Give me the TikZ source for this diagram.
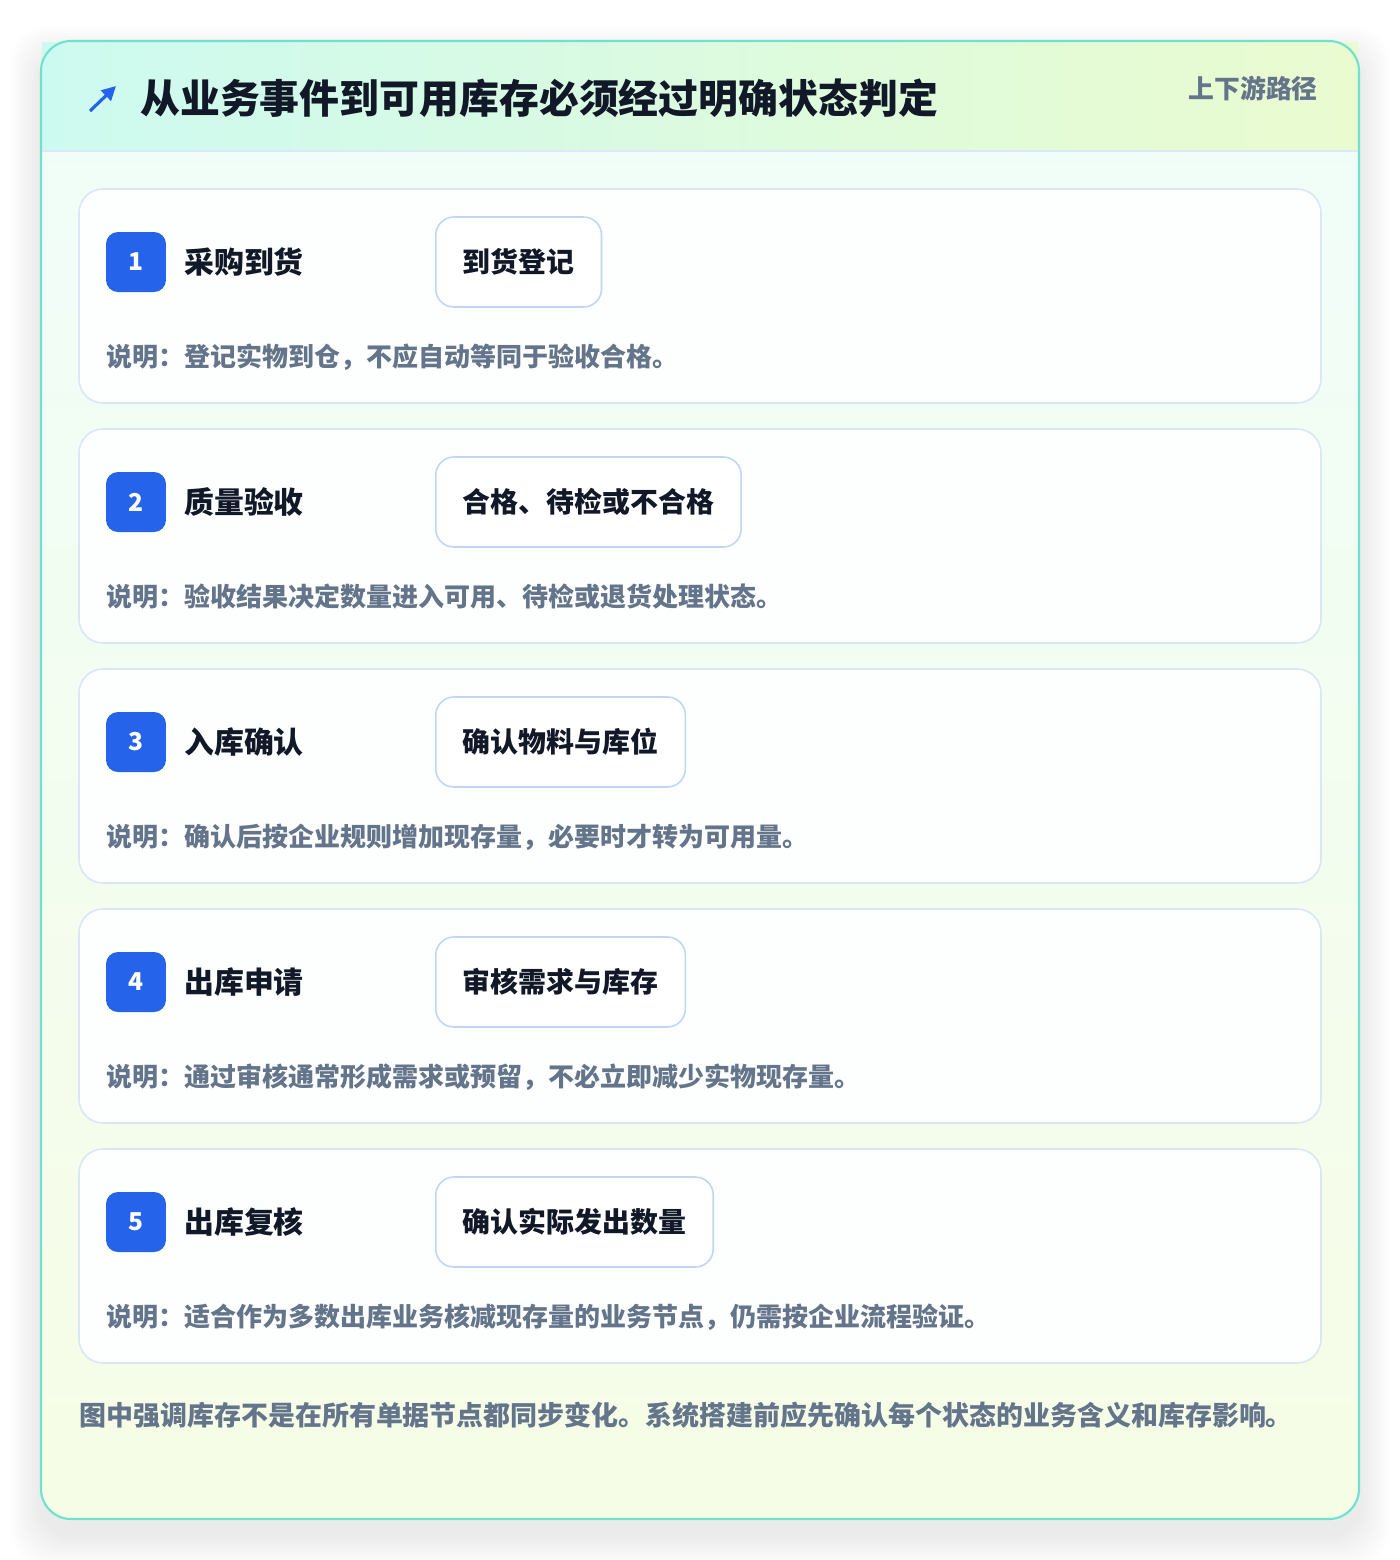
\documentclass[tikz,border=0pt]{standalone}
\usepackage{fontspec}
\setmainfont{Noto Sans CJK SC}
\usetikzlibrary{arrows.meta}
\definecolor{titleink}{HTML}{111827}
\definecolor{grayink}{HTML}{64748B}
\definecolor{badgeblue}{HTML}{2563EB}
\definecolor{cardline}{HTML}{DBE6F6}
\definecolor{pillline}{HTML}{BFD7F5}
\definecolor{tealline}{HTML}{6EE2CF}
\definecolor{headleft}{HTML}{CDFAF0}
\definecolor{headright}{HTML}{EAFBCF}
\definecolor{headline}{HTML}{DCE8F8}
\definecolor{bodytop}{HTML}{F0FDF9}
\definecolor{bodybot}{HTML}{F6FDE6}
\definecolor{cardfill}{HTML}{FDFFFE}
\begin{document}
\begin{tikzpicture}[x=0.02cm,y=-0.02cm,
    card/.style={draw=cardline,line width=0.9pt,fill=cardfill,rounded corners=0.48cm},
    badge/.style={fill=badgeblue,text=white,rounded corners=0.24cm,minimum size=1.2cm,inner sep=0pt,
        font=\bfseries\fontsize{14}{14}\selectfont},
    steptitle/.style={anchor=west,inner sep=0pt,text=titleink,font=\bfseries\fontsize{17}{20}\selectfont},
    pill/.style={anchor=west,draw=pillline,line width=0.9pt,fill=white,rounded corners=0.36cm,
        minimum height=1.8cm,inner xsep=0.54cm,inner ysep=0pt,text=titleink,
        font=\bfseries\fontsize{15.9}{18}\selectfont},
    note/.style={anchor=west,inner sep=0pt,text=grayink,font=\bfseries\fontsize{14.8}{17}\selectfont}]
\useasboundingbox[fill=white] (0,0) rectangle (1400,1560);
% soft shadow of the outer card
\foreach \s in {3,6,...,30}
    \fill[black,opacity=0.008,rounded corners=0.7cm] (41-\s,41-\s+16) rectangle (1359+\s,1519+\s+16);
% outer card
\shade[top color=bodytop,bottom color=bodybot,rounded corners=0.6cm] (41,41) rectangle (1359,1519);
\shade[left color=headleft,right color=headright] (42,42) rectangle (1358,151);
\draw[headline,line width=0.9pt] (42,151) -- (1358,151);
\draw[tealline,line width=1.2pt,rounded corners=0.6cm] (41,41) rectangle (1359,1519);
% header
\draw[-{Triangle[length=8pt,width=8pt]},line width=1.8pt,badgeblue] (90,111) -- (116,86);
\node[anchor=west,inner sep=0pt,text=titleink,font=\bfseries\fontsize{22.7}{26}\selectfont] (title) at (140,98)
    {从业务事件到可用库存必须经过明确状态判定};
\node[anchor=east,inner sep=0pt,text=grayink,font=\bfseries\fontsize{14.7}{17}\selectfont] (path) at (1318,89)
    {上下游路径};
% step 1
\draw[card] (79,189) rectangle (1321,403);
\node[badge] (n1) at (136,262) {1};
\node[steptitle] (t1) at (184,262) {采购到货};
\node[pill] (p1) at (435,262) {到货登记};
\node[note] (d1) at (106,357) {说明：登记实物到仓，不应自动等同于验收合格。};
% step 2
\draw[card] (79,429) rectangle (1321,643);
\node[badge] (n2) at (136,502) {2};
\node[steptitle] (t2) at (184,502) {质量验收};
\node[pill] (p2) at (435,502) {合格、待检或不合格};
\node[note] (d2) at (106,597) {说明：验收结果决定数量进入可用、待检或退货处理状态。};
% step 3
\draw[card] (79,669) rectangle (1321,883);
\node[badge] (n3) at (136,742) {3};
\node[steptitle] (t3) at (184,742) {入库确认};
\node[pill] (p3) at (435,742) {确认物料与库位};
\node[note] (d3) at (106,837) {说明：确认后按企业规则增加现存量，必要时才转为可用量。};
% step 4
\draw[card] (79,909) rectangle (1321,1123);
\node[badge] (n4) at (136,982) {4};
\node[steptitle] (t4) at (184,982) {出库申请};
\node[pill] (p4) at (435,982) {审核需求与库存};
\node[note] (d4) at (106,1077) {说明：通过审核通常形成需求或预留，不必立即减少实物现存量。};
% step 5
\draw[card] (79,1149) rectangle (1321,1363);
\node[badge] (n5) at (136,1222) {5};
\node[steptitle] (t5) at (184,1222) {出库复核};
\node[pill] (p5) at (435,1222) {确认实际发出数量};
\node[note] (d5) at (106,1317) {说明：适合作为多数出库业务核减现存量的业务节点，仍需按企业流程验证。};
% footer
\node[anchor=west,inner sep=0pt,text=grayink,font=\bfseries\fontsize{15.35}{18}\selectfont] (foot) at (79,1415)
    {图中强调库存不是在所有单据节点都同步变化。系统搭建前应先确认每个状态的业务含义和库存影响。};
\end{tikzpicture}
\end{document}
